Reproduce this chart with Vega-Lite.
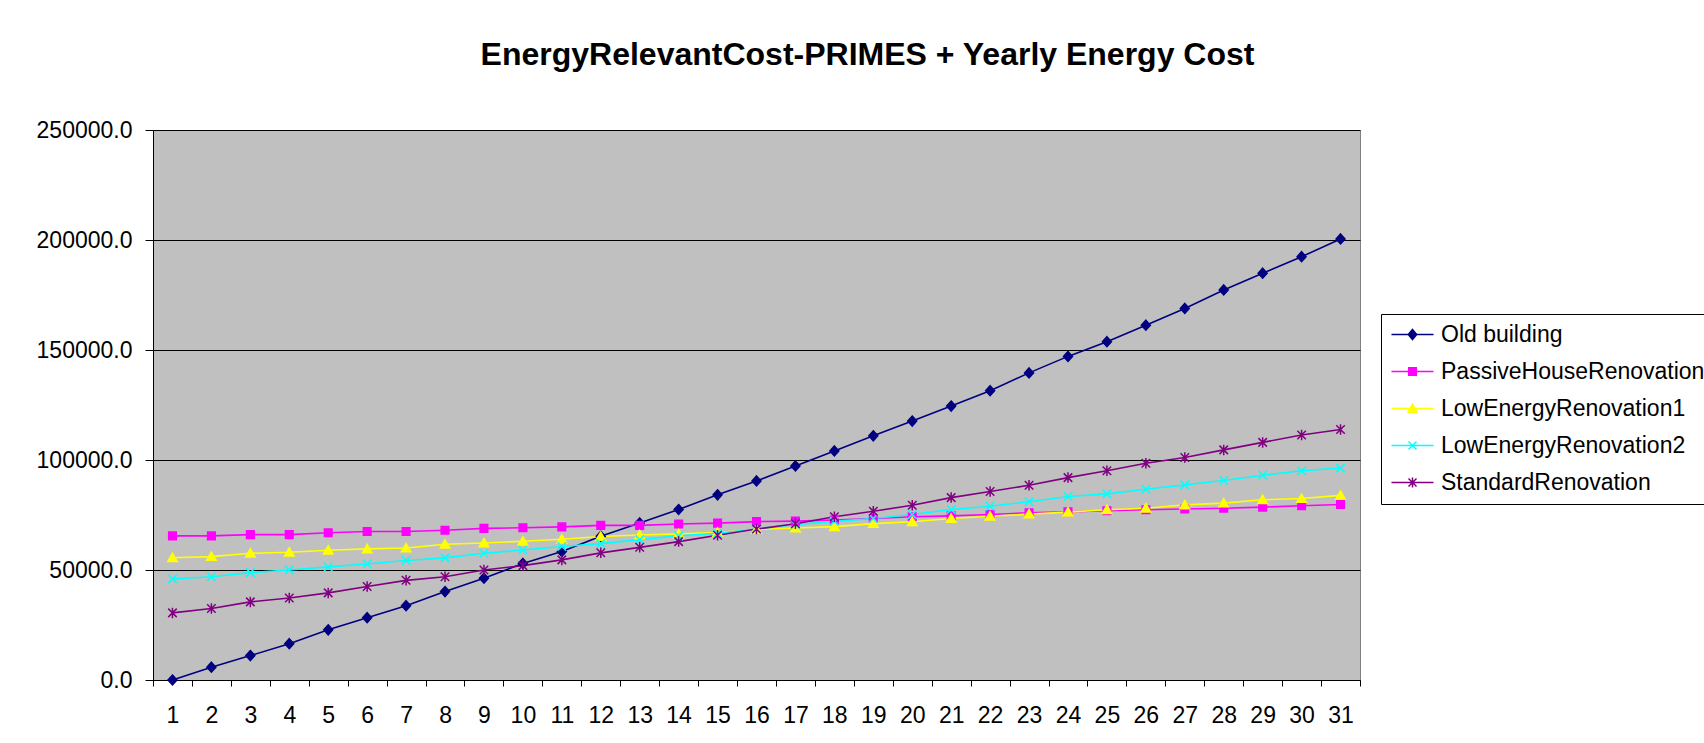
{
"$schema": "https://vega.github.io/schema/vega-lite/v6.json",
"width": 1207, "height": 550,
"autosize": {"type": "none"},
"padding": {"left": 153, "top": 130, "right": 344, "bottom": 63},
"background": "white",
"title": {"text": "EnergyRelevantCost-PRIMES + Yearly Energy Cost", "font": "Liberation Sans", "fontSize": 32, "fontWeight": "bold", "color": "black", "anchor": "middle", "dx": 111, "baseline": "alphabetic", "offset": 22},
"config": {
  "view": {"fill": "#C0C0C0", "stroke": "#808080", "strokeWidth": 1},
  "axis": {"labelFont": "Liberation Sans", "labelFontSize": 23, "labelColor": "black", "tickColor": "black", "domainColor": "black", "title": null}
},
"data": {"values": [
{"x":1,"s":"Old building","v":0},{"x":2,"s":"Old building","v":5800},{"x":3,"s":"Old building","v":11100},{"x":4,"s":"Old building","v":16500},{"x":5,"s":"Old building","v":22800},{"x":6,"s":"Old building","v":28300},{"x":7,"s":"Old building","v":33800},{"x":8,"s":"Old building","v":40200},{"x":9,"s":"Old building","v":46300},{"x":10,"s":"Old building","v":53000},{"x":11,"s":"Old building","v":58400},{"x":12,"s":"Old building","v":65300},{"x":13,"s":"Old building","v":71400},{"x":14,"s":"Old building","v":77500},{"x":15,"s":"Old building","v":84200},{"x":16,"s":"Old building","v":90500},{"x":17,"s":"Old building","v":97300},{"x":18,"s":"Old building","v":104100},{"x":19,"s":"Old building","v":111000},{"x":20,"s":"Old building","v":117700},{"x":21,"s":"Old building","v":124500},{"x":22,"s":"Old building","v":131500},{"x":23,"s":"Old building","v":139600},{"x":24,"s":"Old building","v":147100},{"x":25,"s":"Old building","v":153800},{"x":26,"s":"Old building","v":161300},{"x":27,"s":"Old building","v":168900},{"x":28,"s":"Old building","v":177300},{"x":29,"s":"Old building","v":184900},{"x":30,"s":"Old building","v":192400},{"x":31,"s":"Old building","v":200500},
{"x":1,"s":"PassiveHouseRenovation","v":65500},{"x":2,"s":"PassiveHouseRenovation","v":65500},{"x":3,"s":"PassiveHouseRenovation","v":66100},{"x":4,"s":"PassiveHouseRenovation","v":66100},{"x":5,"s":"PassiveHouseRenovation","v":66900},{"x":6,"s":"PassiveHouseRenovation","v":67500},{"x":7,"s":"PassiveHouseRenovation","v":67500},{"x":8,"s":"PassiveHouseRenovation","v":68100},{"x":9,"s":"PassiveHouseRenovation","v":68900},{"x":10,"s":"PassiveHouseRenovation","v":69200},{"x":11,"s":"PassiveHouseRenovation","v":69600},{"x":12,"s":"PassiveHouseRenovation","v":70300},{"x":13,"s":"PassiveHouseRenovation","v":70300},{"x":14,"s":"PassiveHouseRenovation","v":70900},{"x":15,"s":"PassiveHouseRenovation","v":71300},{"x":16,"s":"PassiveHouseRenovation","v":72000},{"x":17,"s":"PassiveHouseRenovation","v":72200},{"x":18,"s":"PassiveHouseRenovation","v":72700},{"x":19,"s":"PassiveHouseRenovation","v":73400},{"x":20,"s":"PassiveHouseRenovation","v":74200},{"x":21,"s":"PassiveHouseRenovation","v":74600},{"x":22,"s":"PassiveHouseRenovation","v":75200},{"x":23,"s":"PassiveHouseRenovation","v":76000},{"x":24,"s":"PassiveHouseRenovation","v":76400},{"x":25,"s":"PassiveHouseRenovation","v":76900},{"x":26,"s":"PassiveHouseRenovation","v":77400},{"x":27,"s":"PassiveHouseRenovation","v":77700},{"x":28,"s":"PassiveHouseRenovation","v":78100},{"x":29,"s":"PassiveHouseRenovation","v":78600},{"x":30,"s":"PassiveHouseRenovation","v":79200},{"x":31,"s":"PassiveHouseRenovation","v":79800},
{"x":1,"s":"LowEnergyRenovation1","v":55600},{"x":2,"s":"LowEnergyRenovation1","v":56100},{"x":3,"s":"LowEnergyRenovation1","v":57600},{"x":4,"s":"LowEnergyRenovation1","v":58100},{"x":5,"s":"LowEnergyRenovation1","v":59000},{"x":6,"s":"LowEnergyRenovation1","v":59600},{"x":7,"s":"LowEnergyRenovation1","v":60000},{"x":8,"s":"LowEnergyRenovation1","v":61700},{"x":9,"s":"LowEnergyRenovation1","v":62300},{"x":10,"s":"LowEnergyRenovation1","v":63100},{"x":11,"s":"LowEnergyRenovation1","v":64000},{"x":12,"s":"LowEnergyRenovation1","v":65200},{"x":13,"s":"LowEnergyRenovation1","v":65900},{"x":14,"s":"LowEnergyRenovation1","v":66400},{"x":15,"s":"LowEnergyRenovation1","v":67000},{"x":16,"s":"LowEnergyRenovation1","v":68400},{"x":17,"s":"LowEnergyRenovation1","v":69100},{"x":18,"s":"LowEnergyRenovation1","v":69700},{"x":19,"s":"LowEnergyRenovation1","v":71100},{"x":20,"s":"LowEnergyRenovation1","v":71900},{"x":21,"s":"LowEnergyRenovation1","v":73400},{"x":22,"s":"LowEnergyRenovation1","v":74400},{"x":23,"s":"LowEnergyRenovation1","v":75400},{"x":24,"s":"LowEnergyRenovation1","v":76300},{"x":25,"s":"LowEnergyRenovation1","v":77400},{"x":26,"s":"LowEnergyRenovation1","v":78100},{"x":27,"s":"LowEnergyRenovation1","v":79600},{"x":28,"s":"LowEnergyRenovation1","v":80400},{"x":29,"s":"LowEnergyRenovation1","v":81900},{"x":30,"s":"LowEnergyRenovation1","v":82500},{"x":31,"s":"LowEnergyRenovation1","v":83900},
{"x":1,"s":"LowEnergyRenovation2","v":45900},{"x":2,"s":"LowEnergyRenovation2","v":46900},{"x":3,"s":"LowEnergyRenovation2","v":48800},{"x":4,"s":"LowEnergyRenovation2","v":50000},{"x":5,"s":"LowEnergyRenovation2","v":51400},{"x":6,"s":"LowEnergyRenovation2","v":52700},{"x":7,"s":"LowEnergyRenovation2","v":54300},{"x":8,"s":"LowEnergyRenovation2","v":55500},{"x":9,"s":"LowEnergyRenovation2","v":57600},{"x":10,"s":"LowEnergyRenovation2","v":59100},{"x":11,"s":"LowEnergyRenovation2","v":60700},{"x":12,"s":"LowEnergyRenovation2","v":62000},{"x":13,"s":"LowEnergyRenovation2","v":63800},{"x":14,"s":"LowEnergyRenovation2","v":65500},{"x":15,"s":"LowEnergyRenovation2","v":66700},{"x":16,"s":"LowEnergyRenovation2","v":68600},{"x":17,"s":"LowEnergyRenovation2","v":70700},{"x":18,"s":"LowEnergyRenovation2","v":72100},{"x":19,"s":"LowEnergyRenovation2","v":73400},{"x":20,"s":"LowEnergyRenovation2","v":75200},{"x":21,"s":"LowEnergyRenovation2","v":77500},{"x":22,"s":"LowEnergyRenovation2","v":79000},{"x":23,"s":"LowEnergyRenovation2","v":81000},{"x":24,"s":"LowEnergyRenovation2","v":83400},{"x":25,"s":"LowEnergyRenovation2","v":84600},{"x":26,"s":"LowEnergyRenovation2","v":86700},{"x":27,"s":"LowEnergyRenovation2","v":88700},{"x":28,"s":"LowEnergyRenovation2","v":90700},{"x":29,"s":"LowEnergyRenovation2","v":93100},{"x":30,"s":"LowEnergyRenovation2","v":95100},{"x":31,"s":"LowEnergyRenovation2","v":96300},
{"x":1,"s":"StandardRenovation","v":30500},{"x":2,"s":"StandardRenovation","v":32500},{"x":3,"s":"StandardRenovation","v":35500},{"x":4,"s":"StandardRenovation","v":37300},{"x":5,"s":"StandardRenovation","v":39600},{"x":6,"s":"StandardRenovation","v":42500},{"x":7,"s":"StandardRenovation","v":45300},{"x":8,"s":"StandardRenovation","v":46900},{"x":9,"s":"StandardRenovation","v":50000},{"x":10,"s":"StandardRenovation","v":52000},{"x":11,"s":"StandardRenovation","v":54600},{"x":12,"s":"StandardRenovation","v":57800},{"x":13,"s":"StandardRenovation","v":60300},{"x":14,"s":"StandardRenovation","v":62900},{"x":15,"s":"StandardRenovation","v":65800},{"x":16,"s":"StandardRenovation","v":68600},{"x":17,"s":"StandardRenovation","v":71000},{"x":18,"s":"StandardRenovation","v":74200},{"x":19,"s":"StandardRenovation","v":76700},{"x":20,"s":"StandardRenovation","v":79400},{"x":21,"s":"StandardRenovation","v":82900},{"x":22,"s":"StandardRenovation","v":85700},{"x":23,"s":"StandardRenovation","v":88500},{"x":24,"s":"StandardRenovation","v":92000},{"x":25,"s":"StandardRenovation","v":95100},{"x":26,"s":"StandardRenovation","v":98500},{"x":27,"s":"StandardRenovation","v":101100},{"x":28,"s":"StandardRenovation","v":104600},{"x":29,"s":"StandardRenovation","v":108000},{"x":30,"s":"StandardRenovation","v":111400},{"x":31,"s":"StandardRenovation","v":113900}
]},
"encoding": {
  "x": {"field": "x", "type": "ordinal", "bandPosition": 0.5, "scale": {"type": "band", "paddingInner": 0, "paddingOuter": 0},
        "axis": {"labelAngle": 0, "tickSize": 6, "labelPadding": 18, "tickBand": "extent", "grid": false}},
  "y": {"field": "v", "type": "quantitative", "scale": {"domain": [0, 250000], "nice": false},
        "axis": {"values": [0, 50000, 100000, 150000, 200000, 250000], "format": ".1f", "tickSize": 8, "labelPadding": 13, "grid": true, "gridColor": "black", "gridWidth": 1, "gridOpacity": 1}}
},
"layer": [
  {"mark": {"type": "line", "strokeWidth": 1.6},
   "encoding": {
     "color": {"field": "s", "type": "nominal",
       "scale": {"domain": ["Old building", "PassiveHouseRenovation", "LowEnergyRenovation1", "LowEnergyRenovation2", "StandardRenovation"], "range": ["#000080", "#FF00FF", "#FFFF00", "#00FFFF", "#800080"]},
       "legend": {"orient": "none", "legendX": 1228, "legendY": 184, "title": null, "strokeColor": "black", "fillColor": "white", "padding": 9,
         "labelFont": "Liberation Sans", "labelFontSize": 23, "labelColor": "black", "labelLimit": 400,
         "symbolSize": 400, "symbolOffset": 11, "labelOffset": 17, "rowPadding": 13, "symbolStrokeWidth": 1.5, "symbolType": "stroke",
         "encode": {"symbols": {"update": {
           "shape": {"signal": "datum.value==='Old building'?'M-2.1,0L2.1,0M0,-0.5L0.42,0L0,0.5L-0.42,0Z':datum.value==='PassiveHouseRenovation'?'M-2.1,0L2.1,0M-0.38,-0.38L0.38,-0.38L0.38,0.38L-0.38,0.38Z':datum.value==='LowEnergyRenovation1'?'M-2.1,0L2.1,0M0,-0.45L0.45,0.38L-0.45,0.38Z':datum.value==='LowEnergyRenovation2'?'M-2.1,0L2.1,0M-0.4,-0.4L0.4,0.4M-0.4,0.4L0.4,-0.4':'M-2.1,0L2.1,0M-0.4,-0.4L0.4,0.4M-0.4,0.4L0.4,-0.4M0,-0.5L0,0.5'"},
           "fill": {"scale": "color", "field": "value"},
           "stroke": {"scale": "color", "field": "value"},
           "opacity": {"value": 1}
         }}}}}
   }},
  {"transform": [{"filter": {"field": "s", "equal": "Old building"}}],
   "mark": {"type": "point", "filled": true, "size": 100, "strokeWidth": 1.5, "opacity": 1, "fill": "#000080", "stroke": "#000080", "shape": "M0,-1L0.9,0L0,1L-0.9,0Z"}},
  {"transform": [{"filter": {"field": "s", "equal": "PassiveHouseRenovation"}}],
   "mark": {"type": "point", "filled": true, "size": 100, "strokeWidth": 1.5, "opacity": 1, "fill": "#FF00FF", "stroke": "#FF00FF", "shape": "M-0.76,-0.76L0.76,-0.76L0.76,0.76L-0.76,0.76Z"}},
  {"transform": [{"filter": {"field": "s", "equal": "LowEnergyRenovation1"}}],
   "mark": {"type": "point", "filled": true, "size": 100, "strokeWidth": 1.5, "opacity": 1, "fill": "#FFFF00", "stroke": "#FFFF00", "shape": "M0,-0.9L0.95,0.75L-0.95,0.75Z"}},
  {"transform": [{"filter": {"field": "s", "equal": "LowEnergyRenovation2"}}],
   "mark": {"type": "point", "filled": true, "size": 100, "strokeWidth": 1.5, "opacity": 1, "fill": "#00FFFF", "stroke": "#00FFFF", "shape": "M-0.85,-0.85L0.85,0.85M-0.85,0.85L0.85,-0.85"}},
  {"transform": [{"filter": {"field": "s", "equal": "StandardRenovation"}}],
   "mark": {"type": "point", "filled": true, "size": 100, "strokeWidth": 1.5, "opacity": 1, "fill": "#800080", "stroke": "#800080", "shape": "M-0.85,-0.85L0.85,0.85M-0.85,0.85L0.85,-0.85M0,-1.05L0,1.05"}}
]
}
